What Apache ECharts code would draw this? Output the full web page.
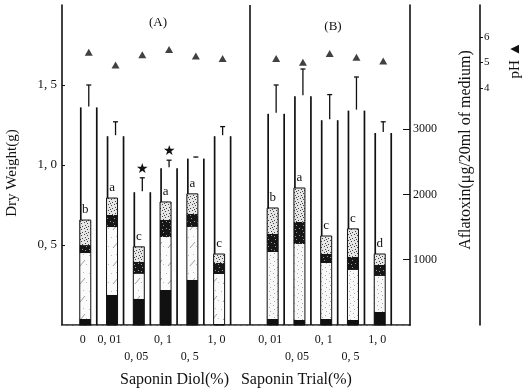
<!DOCTYPE html>
<html>
<head>
<meta charset="utf-8">
<script src="https://cdn.jsdelivr.net/npm/echarts@6/dist/echarts.min.js"></script>
<style>
  html, body { margin: 0; padding: 0; background: #fff; }
  #chart { width: 531px; height: 391px; }
</style>
</head>
<body>
<div id="chart"></div>
<script>
// x categories: (A) saponin diol, (B) saponin trial
var diolConc = ['0', '0, 01', '0, 05', '0, 1', '0, 5', '1, 0']
var trialConc = ['0, 01', '0, 05', '0, 1', '0, 5', '1, 0']
var lowerRow = ['0, 05', '0, 5']
var categories = [''].concat(diolConc, [' '], trialConc, ['  '])

// dry weight (g), tall open bars
var dryWeight = [1.36, 1.18, 0.83, 0.98, 1.04, 1.18, 1.32, 1.43, 1.28, 1.34, 1.20]
var dryWeightErr = [0.14, 0.09, 0.09, 0.05, 0.01, 0.06, 0.18, 0.17, 0.16, 0.21, 0.07]
var dryWeightStar = [0, 0, 1, 1, 0, 0, 0, 0, 0, 0, 0]

// aflatoxin, stacked narrow bars (bottom -> top)
var aflaBlack = [92, 460, 400, 536, 690, 15, 92, 77, 92, 77, 200]
var aflaLight = [1010, 1040, 383, 812, 812, 766, 1026, 1164, 857, 766, 551]
var aflaDark = [122, 184, 184, 260, 200, 168, 276, 337, 138, 200, 168]
var aflaDotted = [383, 260, 230, 276, 306, 138, 398, 520, 276, 429, 168]
var aflaLetter = ['b', 'a', 'c', 'a', 'a', 'c', 'b', 'a', 'c', 'c', 'd']

// pH of medium
var pH = [5.4, 4.9, 5.3, 5.5, 5.25, 5.15, 5.15, 5.0, 5.35, 5.2, 5.05]

// tick labels
var dryTicks = [0.5, 1.0, 1.5]
var aflaTicks = [1000, 2000, 3000]
var phTicks = [4, 5, 6]

var FONT = 'Liberation Serif'

// category index of each group
var groupPos = diolConc.map(function (c, i) { return i + 1 })
  .concat(trialConc.map(function (c, j) { return j + diolConc.length + 2 }))

// fill patterns for the stacked bars
function makePattern (w, h, bg, draw) {
  var cv = document.createElement('canvas')
  cv.width = w
  cv.height = h
  var ctx = cv.getContext('2d')
  ctx.fillStyle = bg
  ctx.fillRect(0, 0, w, h)
  draw(ctx)
  return { image: cv, repeat: 'repeat' }
}
function dots (ctx, color, pts) {
  ctx.fillStyle = color
  pts.forEach(function (p) { ctx.fillRect(p[0], p[1], 1, 1) })
}
var hatchFill = makePattern(11, 18, '#fbfbfb', function (ctx) {
  ctx.strokeStyle = '#888'
  ctx.lineWidth = 0.8
  ctx.beginPath()
  ctx.moveTo(3, 14)
  ctx.lineTo(8, 8)
  ctx.stroke()
  dots(ctx, '#bbb', [[1, 3], [6, 2], [9, 12]])
})
var stippleFill = makePattern(8, 8, '#f8f8f8', function (ctx) {
  dots(ctx, '#aaa', [[1, 1], [5, 3], [2, 5], [6, 7]])
})
var dottedFill = makePattern(6, 6, '#e6e6e6', function (ctx) {
  dots(ctx, '#444', [[0, 0], [3, 1], [1, 3], [4, 4], [2, 5]])
})
var darkFill = makePattern(7, 7, '#161616', function (ctx) {
  dots(ctx, '#999', [[2, 1], [5, 4], [1, 5]])
})

function renderTall (params, api) {
  var i = api.value(0)
  var v = api.value(1)
  var e = api.value(2)
  var base = api.coord([i, 0])
  var top = api.coord([i, v])
  var et = api.coord([i, v + e])
  var c = base[0]
  var line = { stroke: '#111', lineWidth: 1.7 }
  var children = [
    { type: 'line', shape: { x1: c - 8, y1: base[1], x2: c - 8, y2: top[1] }, style: line },
    { type: 'line', shape: { x1: c + 8, y1: base[1], x2: c + 8, y2: top[1] }, style: line }
  ]
  var thin = { stroke: '#111', lineWidth: 1.3 }
  children.push({ type: 'line', shape: { x1: c, y1: top[1] - 1, x2: c, y2: et[1] }, style: thin })
  children.push({ type: 'line', shape: { x1: c - 2.5, y1: et[1], x2: c + 2.5, y2: et[1] }, style: thin })
  if (dryWeightStar[params.dataIndex]) {
    children.push({
      type: 'text',
      style: { text: '★', x: c, y: et[1] - 9, align: 'center', verticalAlign: 'middle', fontSize: 14, fill: '#111' }
    })
  }
  return { type: 'group', children: children }
}

function renderStack (params, api) {
  var i = api.value(0)
  var segs = [api.value(1), api.value(2), api.value(3), api.value(4)]
  var c = api.coord([i, 0])[0]
  var fills = ['#111', i > diolConc.length + 1 ? stippleFill : hatchFill, darkFill, dottedFill]
  var children = []
  var cum = 0
  var yBase = api.coord([i, 0])[1]
  for (var k = 0; k < segs.length; k++) {
    var y0 = api.coord([i, cum])[1]
    cum += segs[k]
    var y1 = api.coord([i, cum])[1]
    children.push({
      type: 'rect',
      shape: { x: c - 9, y: y1, width: 11, height: y0 - y1 },
      style: { fill: fills[k] }
    })
  }
  var yTop = api.coord([i, cum])[1]
  children.push({
    type: 'rect',
    shape: { x: c - 9, y: yTop, width: 11, height: yBase - yTop },
    style: { fill: 'none', stroke: '#111', lineWidth: 1 }
  })
  children.push({
    type: 'text',
    style: {
      text: aflaLetter[params.dataIndex], x: c - 3.5, y: yTop - 10,
      align: 'center', verticalAlign: 'middle', fontSize: 13, fontFamily: FONT, fill: '#111'
    }
  })
  return { type: 'group', children: children }
}

var tallData = groupPos.map(function (p, k) { return [p, dryWeight[k], dryWeightErr[k]] })
var stackData = groupPos.map(function (p, k) {
  return [p, aflaBlack[k], aflaLight[k], aflaDark[k], aflaDotted[k]]
})
var phData = groupPos.map(function (p, k) { return [p, pH[k]] })

var axisText = { fontFamily: FONT, color: '#111' }

var option = {
  backgroundColor: '#fff',
  animation: false,
  grid: { left: 62, right: 121, top: 5, bottom: 66, outerBoundsMode: 'none' },
  xAxis: [{
    type: 'category',
    data: categories,
    boundaryGap: false,
    position: 'bottom',
    axisLine: { show: true, lineStyle: { color: '#111', width: 1.6 } },
    axisTick: { show: false },
    splitLine: { show: false },
    axisLabel: {
      interval: 0,
      margin: 6,
      fontSize: 12,
      lineHeight: 17,
      padding: [0, 12, 0, 0],
      fontFamily: FONT,
      color: '#111',
      formatter: function (v) { return lowerRow.indexOf(v) >= 0 ? '\n' + v : v }
    },
    name: 'Saponin Diol(%)   Saponin Trial(%)',
    nameLocation: 'middle',
    nameGap: 47,
    nameTextStyle: { fontSize: 16, fontFamily: FONT, color: '#111' }
  }, {
    type: 'category',
    data: categories,
    boundaryGap: false,
    position: 'top',
    axisLine: { show: true, lineStyle: { color: '#777', width: 1, type: 'dashed' } },
    axisTick: { show: false },
    axisLabel: { show: false },
    splitLine: { show: false }
  }],
  yAxis: [{
    type: 'value',
    min: 0,
    max: 2,
    position: 'left',
    axisLine: { show: true, lineStyle: { color: '#111', width: 1.6 } },
    axisTick: { show: true, inside: true, length: 3, customValues: dryTicks, lineStyle: { color: '#111' } },
    splitLine: { show: false },
    axisLabel: Object.assign({
      margin: 5,
      fontSize: 13,
      customValues: dryTicks,
      formatter: function (v) { return v.toFixed(1).replace('.', ', ') }
    }, axisText),
    name: 'Dry Weight(g)',
    nameLocation: 'middle',
    nameRotate: 90,
    nameGap: 42,
    nameTextStyle: { fontSize: 15, fontFamily: FONT, color: '#111', padding: [0, 16, 0, 0] }
  }, {
    type: 'value',
    min: 0,
    max: 4900,
    position: 'right',
    axisLine: { show: true, lineStyle: { color: '#111', width: 1.6 } },
    axisTick: { show: true, inside: true, length: 7, customValues: aflaTicks, lineStyle: { color: '#111' } },
    splitLine: { show: false },
    axisLabel: Object.assign({
      margin: 3,
      fontSize: 12,
      customValues: aflaTicks,
      formatter: function (v) { return String(v) }
    }, axisText),
    name: 'Aflatoxin(μg/20ml of medium)',
    nameLocation: 'middle',
    nameRotate: 90,
    nameGap: 48,
    nameTextStyle: { fontSize: 16, fontFamily: FONT, color: '#111', padding: [0, 0, 0, 30] }
  }, {
    type: 'value',
    min: -5.3,
    max: 7.25,
    position: 'right',
    offset: 70,
    axisLine: { show: true, lineStyle: { color: '#111', width: 1.6 } },
    axisTick: { show: true, length: 3, customValues: phTicks, lineStyle: { color: '#111' } },
    splitLine: { show: false },
    axisLabel: Object.assign({
      margin: 4,
      fontSize: 11,
      customValues: phTicks,
      formatter: function (v) { return String(v) }
    }, axisText)
  }],
  graphic: [
    { type: 'text', x: 158, y: 23, style: { text: '(A)', font: '13px "Liberation Serif"', fill: '#111', align: 'center', verticalAlign: 'middle' } },
    { type: 'text', x: 333, y: 27, style: { text: '(B)', font: '13px "Liberation Serif"', fill: '#111', align: 'center', verticalAlign: 'middle' } },
    { type: 'text', x: 515, y: 60, rotation: Math.PI / 2, style: { text: 'pH ▲', font: '15px "Liberation Serif"', fill: '#111', align: 'center', verticalAlign: 'middle' } }
  ],
  series: [{
    type: 'custom',
    name: 'Dry Weight',
    xAxisIndex: 0,
    yAxisIndex: 0,
    renderItem: renderTall,
    data: tallData,
    markLine: {
      silent: true,
      symbol: 'none',
      label: { show: false },
      lineStyle: { color: '#111', width: 1.6, type: 'solid' },
      data: [{ xAxis: diolConc.length + 1 }]
    }
  }, {
    type: 'custom',
    name: 'Aflatoxin',
    xAxisIndex: 0,
    yAxisIndex: 1,
    renderItem: renderStack,
    data: stackData
  }, {
    type: 'scatter',
    name: 'pH',
    xAxisIndex: 0,
    yAxisIndex: 2,
    symbol: 'triangle',
    symbolSize: [8, 7],
    itemStyle: { color: '#111' },
    data: phData
  }]
}

var myChart = echarts.init(document.getElementById('chart'))
myChart.setOption(option)
</script>
</body>
</html>
